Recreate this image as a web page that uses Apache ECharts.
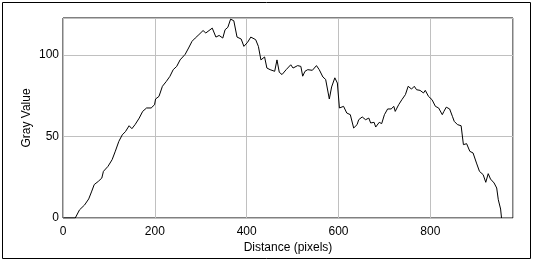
<!DOCTYPE html>
<html>
<head>
<meta charset="utf-8">
<script src="https://cdn.jsdelivr.net/npm/echarts@6/dist/echarts.min.js"></script>
<style>
html,body{margin:0;padding:0;background:#fff;}
#c{width:534px;height:262px;}
</style>
</head>
<body>
<div id="c"></div>
<script>
const xTitle = "Distance (pixels)";
const yTitle = "Gray Value";
const xValues = [0,26.7,36,47,56,62,68,77,84.5,88,98,107,114,121.6,129,136,144,150,157,166,173.5,182,192,199.4,201.6,209,216.5,225,232.8,240,247.6,255,266,273.5,281,288,296,305,311,318,325,333,340,348,353,359,365,372,379,388,394,402,409,419.6,425.5,431,439,444,451,455,461,466,471,477,486,496,501,511,518,522,527,533,537,543,552,558,566,572,580,585,592,597.5,602,611,618,625.7,633,640.5,644,651.6,659,666,670,677.5,681,688.7,694,700,707,714.6,720.5,723.5,731,738,745.7,751.7,759,765,770,777.6,785,789,796,803.6,811,818,826,829.5,834.7,842,848,852,859,867,872,879,886,893,900.5,907,915,920.7,926,931,938.8,944.5,948,953,955];
const yValues = [0,0,5,8,11.7,16,20.5,22.5,24.5,28.6,31.7,35.8,41,47,51,53,56.6,54.8,57.3,61.3,65.4,67.5,67.5,69.5,73,74.6,80.8,83.8,86.9,91,93,97,100.4,104.3,108.4,110.4,112.5,115,113.5,115,116.5,111,112,110.4,115.5,117,122,121,111,109.8,105.3,107.8,111,109.4,105.3,97,98.8,92,91,92,90,97,89.4,88,91,94,92,93.5,93,87,90,91,92,90.6,93.5,91,86.5,85,73,80.4,86,82.8,67.5,68.5,64.4,63.4,55.2,57.3,60.3,62,60.3,61.3,58.3,58.7,55.8,58.7,57.9,63.4,66.9,66.9,68.5,65.4,69.5,72.6,75.7,80.8,79.1,80.8,78.7,78.3,76.7,78.3,74.6,72.6,68.5,67.5,63.4,65.4,68,66.9,62.4,59.3,57.3,56.6,45,45.6,40.9,39.9,33.7,28.6,26.6,21.9,27.2,23.9,21.5,18.4,11.2,5.5,0];
const xMin = 0, xMax = 980, xStep = 200;
const yMin = 0, yMax = 122.7, yStep = 50;

const data = xValues.map((x, i) => [x, yValues[i]]);
const font = '"Liberation Sans", Arial, sans-serif';
const chart = echarts.init(document.getElementById('c'), null, {renderer: 'canvas'});
chart.setOption({
  animation: false,
  backgroundColor: '#fff',
  grid: {left: 63, top: 18, right: 21, bottom: 44, show: true, borderColor: '#000', borderWidth: 1, backgroundColor: 'transparent'},
  graphic: [{type: 'rect', shape: {x: 2.5, y: 2.5, width: 528, height: 256}, style: {fill: 'none', stroke: '#000', lineWidth: 1}, silent: true}],
  xAxis: {
    type: 'value', min: xMin, max: xMax, interval: xStep,
    name: xTitle, nameLocation: 'middle', nameGap: 24, nameMoveOverlap: false,
    nameTextStyle: {color: '#000', fontFamily: font, fontSize: 12},
    axisLine: {show: false}, axisTick: {show: false},
    axisLabel: {color: '#000', fontFamily: font, fontSize: 12, margin: 8, showMaxLabel: false},
    splitLine: {show: true, lineStyle: {color: '#c0c0c0', width: 1}}
  },
  yAxis: {
    type: 'value', min: yMin, max: yMax, interval: yStep,
    name: yTitle, nameLocation: 'middle', nameGap: 30, nameRotate: 90, nameMoveOverlap: false,
    nameTextStyle: {color: '#000', fontFamily: font, fontSize: 12},
    axisLine: {show: false}, axisTick: {show: false},
    axisLabel: {color: '#000', fontFamily: font, fontSize: 12, margin: 4, showMaxLabel: false},
    splitLine: {show: true, lineStyle: {color: '#c0c0c0', width: 1}}
  },
  series: [{
    type: 'line', data: data, showSymbol: false, symbol: 'none',
    lineStyle: {color: '#000', width: 1}, silent: true, z: 3
  }]
});
</script>
</body>
</html>
